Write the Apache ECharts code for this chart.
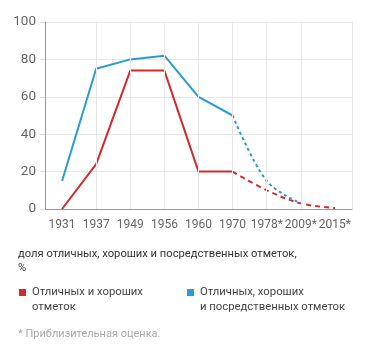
<!DOCTYPE html>
<html><head><meta charset="utf-8">
<script src="https://cdn.jsdelivr.net/npm/echarts@6/dist/echarts.min.js"></script>
<style>html,body{margin:0;padding:0;background:#fff}#c{width:371px;height:357px}</style>
</head><body><div id="c"></div>
<script>
const categories = ['1931','1937','1949','1956','1960','1970','1978*','2009*','2015*'];
const redSolid = [0, 24, 74, 74, 20, 20, null, null, null];
const redDashed = [null, null, null, null, null, 20, 10, 3, 0.5];
const blueSolid = [15, 75, 80, 82, 60, 50, null, null, null];
const blueDashed = [null, null, null, null, null, 50, 15, 3, null];
const yTicks = [0, 20, 40, 60, 80, 100];
const gridCats = ['1937','1949','1956','1960','1970','1978*','2009*'];
const titleText = 'доля отличных, хороших и посредственных отметок,\n%';
const legendRed = 'Отличных и хороших\nотметок';
const legendBlue = 'Отличных, хороших\nи посредственных отметок';
const footnote = '* Приблизительная оценка.';

const RED = '#d32a2e', BLUE = '#2a9bd4';
const FONT = 'Roboto';
const chart = echarts.init(document.getElementById('c'), null, {renderer: 'canvas'});
chart.setOption({
  animation: false,
  textStyle: {fontFamily: FONT},
  grid: {left: 45, right: 19, top: 22, bottom: 148, containLabel: false},
  xAxis: {
    type: 'category', data: categories, boundaryGap: true,
    axisLine: {lineStyle: {color: '#999', width: 1}},
    axisTick: {show: false},
    axisLabel: {color: '#666', fontSize: 12, fontFamily: FONT, margin: 10, interval: 0},
    splitLine: {show: false}
  },
  yAxis: [{
    type: 'value', min: 0, max: 100, interval: 20,
    axisLine: {show: true, lineStyle: {color: '#999'}},
    axisTick: {show: true, length: 5, lineStyle: {color: '#ddd'}},
    axisLabel: {color: '#666', fontSize: 13.5, fontFamily: FONT, margin: 9,
      formatter: v => yTicks.includes(v) ? String(v) : ''},
    splitLine: {lineStyle: {color: '#e8e8e8'}}
  }, {
    type: 'value', min: 0, max: 100, interval: 20, position: 'right',
    axisLine: {show: true, lineStyle: {color: '#e6e6e6'}},
    axisTick: {show: false}, axisLabel: {show: false}, splitLine: {show: false}
  }],
  series: [
    {type: 'line', data: redSolid, symbol: 'none', lineStyle: {color: RED, width: 2}, z: 3,
      markLine: {silent: true, symbol: 'none', label: {show: false},
        lineStyle: {color: '#e8e8e8', type: 'solid', width: 1},
        data: gridCats.map(c => ({xAxis: c}))}},
    {type: 'line', data: redDashed, symbol: 'none', smooth: 0.35,
      lineStyle: {color: RED, width: 2, type: [5, 4]}, z: 3},
    {type: 'line', data: blueSolid, symbol: 'none', lineStyle: {color: BLUE, width: 2}, z: 4},
    {type: 'line', data: blueDashed, symbol: 'none', smooth: 0.35,
      lineStyle: {color: BLUE, width: 2, type: [3, 3]}, z: 4}
  ],
  graphic: [
    {type: 'text', left: 18, top: 247, style: {text: titleText, fill: '#333', fontSize: 11.2, fontFamily: FONT, lineHeight: 14}},
    {type: 'rect', left: 19, top: 289, shape: {width: 7, height: 7}, style: {fill: RED}},
    {type: 'text', left: 32, top: 285, style: {text: legendRed, fill: '#444', fontSize: 11.3, fontFamily: FONT, lineHeight: 15}},
    {type: 'rect', left: 187, top: 289, shape: {width: 7, height: 7}, style: {fill: BLUE}},
    {type: 'text', left: 200, top: 285, style: {text: legendBlue, fill: '#444', fontSize: 11.3, fontFamily: FONT, lineHeight: 15}},
    {type: 'text', left: 18, top: 329, style: {text: footnote, fill: '#aaa', fontSize: 11, fontFamily: FONT}}
  ]
});
</script></body></html>
